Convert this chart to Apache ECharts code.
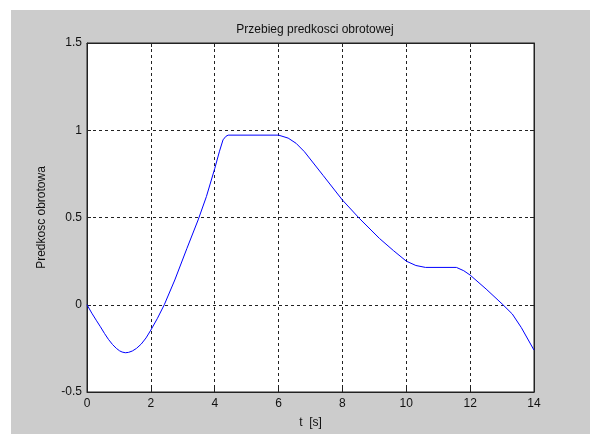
<!DOCTYPE html>
<html>
<head>
    <meta charset="utf-8">
    <title>Przebieg predkosci obrotowej</title>
    <script src="https://cdn.jsdelivr.net/npm/echarts@6/dist/echarts.min.js"></script>
    <style>
      body { margin: 0; background: #fff; }
      #frame { position: absolute; left: 11px; top: 10px; width: 579px; height: 424px; background: #cccccc; }
      #main { width: 579px; height: 424px; }
    </style>
</head>
<body>
    <div id="frame"><div id="main"></div></div>
    <script type="text/javascript">
      // czas [s]
      var czas = [0, 0.15, 0.3, 0.42, 0.55, 0.67, 0.8, 0.92, 1.02, 1.1, 1.2, 1.3, 1.42, 1.55, 1.7, 1.85, 2.0, 2.2, 2.42, 2.75, 3.13, 3.48, 3.74, 4.0, 4.15, 4.26, 4.35, 4.42,
                  6.0, 6.3, 6.55, 6.81, 7.4, 8.0, 8.53, 9.16, 9.6, 10.0, 10.3, 10.6, 11.57, 11.8, 12.0,
                  12.5, 13.0, 13.32, 13.6, 14.0];
      // predkosc obrotowa
      var predkosc = [0, -0.048, -0.092, -0.126, -0.165, -0.198, -0.228, -0.25, -0.264, -0.271, -0.275, -0.273, -0.265, -0.25, -0.225, -0.19, -0.145, -0.08, 0, 0.142, 0.323, 0.486, 0.62, 0.78, 0.88, 0.945, 0.965, 0.972,
                      0.972, 0.955, 0.925, 0.877, 0.74, 0.60, 0.495, 0.38, 0.31, 0.25, 0.225, 0.214, 0.214, 0.195, 0.17,
                      0.09, 0.005, -0.053, -0.13, -0.26];
      var xTicks = [0, 14, 2];
      var yTicks = [-0.5, 1.5, 0.5];

      var punkty = czas.map(function(t, i){ return [t, predkosc[i]]; });
      var font = 'Liberation Sans, Arial, sans-serif';

      var myChart = echarts.init(document.getElementById('main'));
      var option = {
        animation: false,
        title: {
          text: 'Przebieg predkosci obrotowej',
          left: 299, top: 9, textAlign: 'center',
          textStyle: { fontFamily: font, fontSize: 12, fontWeight: 'normal', color: '#111' }
        },
        grid: {
          left: 76, top: 33, width: 447, height: 349,
          show: true, backgroundColor: '#fff', borderColor: '#222', borderWidth: 1
        },
        xAxis: [{
          type: 'value', min: xTicks[0], max: xTicks[1], interval: xTicks[2],
          name: 't  [s]', nameLocation: 'middle', nameGap: 25,
          nameTextStyle: { fontFamily: font, fontSize: 12, color: '#111' },
          axisLine: { onZero: false, lineStyle: { color: '#222' } },
          axisTick: { inside: true, length: 4, lineStyle: { color: '#222' } },
          axisLabel: { fontFamily: font, fontSize: 12, color: '#111', margin: 6 },
          splitLine: { show: true, lineStyle: { color: '#222', type: [3, 3] } }
        }, {
          type: 'value', position: 'top', min: xTicks[0], max: xTicks[1], interval: xTicks[2],
          axisLine: { onZero: false, lineStyle: { color: '#222' } },
          axisTick: { inside: true, length: 4, lineStyle: { color: '#222' } },
          axisLabel: { show: false }, splitLine: { show: false }
        }],
        yAxis: [{
          type: 'value', min: yTicks[0], max: yTicks[1], interval: yTicks[2],
          name: 'Predkosc obrotowa', nameLocation: 'middle', nameGap: 39,
          nameTextStyle: { fontFamily: font, fontSize: 12, color: '#111' },
          axisLine: { show: true, onZero: false, lineStyle: { color: '#222' } },
          axisTick: { show: true, inside: true, length: 4, lineStyle: { color: '#222' } },
          axisLabel: { fontFamily: font, fontSize: 12, color: '#111', margin: 5 },
          splitLine: { show: true, lineStyle: { color: '#222', type: [3, 3] } }
        }, {
          type: 'value', position: 'right', min: yTicks[0], max: yTicks[1], interval: yTicks[2],
          axisLine: { show: true, onZero: false, lineStyle: { color: '#222' } },
          axisTick: { show: true, inside: true, length: 4, lineStyle: { color: '#222' } },
          axisLabel: { show: false }, splitLine: { show: false }
        }],
        series: [{
          type: 'line',
          data: punkty,
          showSymbol: false,
          smooth: false,
          lineStyle: { color: '#0000ff', width: 1 }
        }]
      };
      myChart.setOption(option);
    </script>
</body>
</html>
